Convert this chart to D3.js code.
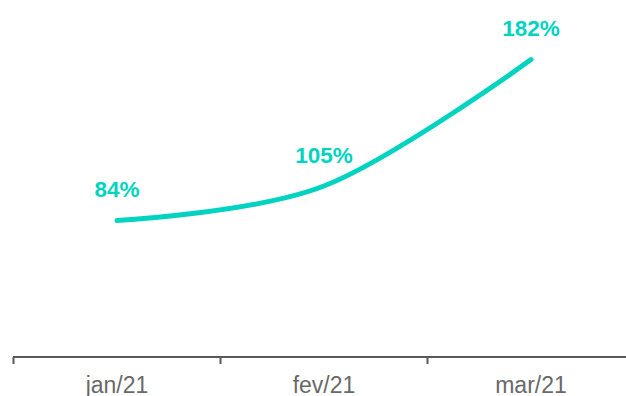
<!DOCTYPE html>
<html>
<head>
<meta charset="utf-8">
<script src="https://cdn.jsdelivr.net/npm/d3@7"></script>
<style>
  html, body { margin: 0; padding: 0; background: #ffffff; }
  svg { display: block; }
</style>
</head>
<body>
<svg id="chart" width="626" height="396"></svg>
<script>
// Monthly growth figures
const months = ["jan/21", "fev/21", "mar/21"];
const growth = [84, 105, 182];
const valueLabels = ["84%", "105%", "182%"];

const teal = "#00d3c0";
const axisGray = "#595959";
const labelGray = "#696969";

const svg = d3.select("#chart");

const x = d3.scaleBand()
  .domain(months)
  .range([13.5, 634.5])
  .paddingInner(0)
  .paddingOuter(0);

const y = d3.scaleLinear()
  .domain([0, 200])
  .range([358.5, 30]);

const cx = m => x(m) + x.bandwidth() / 2;

// Category axis along the bottom
const axisY = 357;
const gAxis = svg.append("g").attr("transform", `translate(0,${axisY})`);
gAxis.append("line")
  .attr("x1", 13).attr("x2", 626)
  .attr("y1", 0).attr("y2", 0)
  .attr("stroke", axisGray).attr("stroke-width", 2);

// Tick marks at the band boundaries
const boundaries = months.map(m => x(m)).concat([x(months[months.length - 1]) + x.bandwidth()]);
gAxis.selectAll("line.tick")
  .data(boundaries)
  .join("line")
  .attr("class", "tick")
  .attr("x1", d => d).attr("x2", d => d)
  .attr("y1", 0).attr("y2", 7)
  .attr("stroke", axisGray).attr("stroke-width", 2);

gAxis.selectAll("text.cat")
  .data(months)
  .join("text")
  .attr("class", "cat")
  .attr("x", d => cx(d))
  .attr("y", 36)
  .attr("text-anchor", "middle")
  .attr("font-family", "Liberation Sans, Arial, sans-serif")
  .attr("font-size", 23)
  .attr("fill", labelGray)
  .text(d => d);

// Smoothed line
const points = months.map((m, i) => ({ m, v: growth[i], label: valueLabels[i] }));
const line = d3.line()
  .x(d => cx(d.m))
  .y(d => y(d.v))
  .curve(d3.curveCardinal.tension(0));

svg.append("path")
  .datum(points)
  .attr("d", line)
  .attr("fill", "none")
  .attr("stroke", teal)
  .attr("stroke-width", 5)
  .attr("stroke-linecap", "round")
  .attr("stroke-linejoin", "round");

// Value labels above each point
svg.selectAll("text.val")
  .data(points)
  .join("text")
  .attr("class", "val")
  .attr("x", d => cx(d.m))
  .attr("y", d => y(d.v) - 23.5)
  .attr("text-anchor", "middle")
  .attr("font-family", "Liberation Sans, Arial, sans-serif")
  .attr("font-weight", "bold")
  .attr("font-size", 22.5)
  .attr("fill", teal)
  .text(d => d.label);
</script>
</body>
</html>
